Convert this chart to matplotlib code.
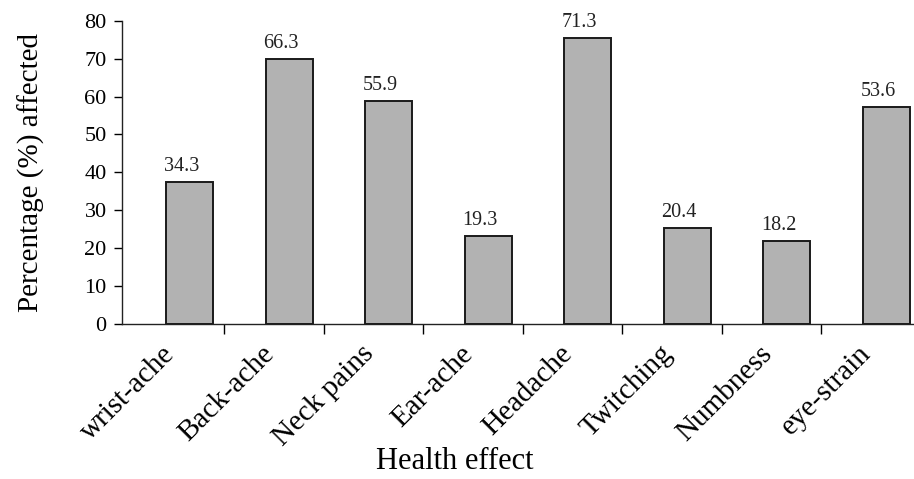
import numpy as np
import matplotlib.pyplot as plt
import matplotlib.transforms as mtransforms

plt.rcParams['font.family'] = ['Liberation Serif', 'DejaVu Serif']

effects = ["wrist-ache", "Back-ache", "Neck pains", "Ear-ache",
           "Headache", "Twitching", "Numbness", "eye-strain"]
# bar heights as drawn in the picture (they don't match the printed labels)
heights = [37.5, 69.8, 58.9, 23.2, 75.4, 25.2, 21.9, 57.3]
value_labels = ["34.3", "66.3", "55.9", "19.3", "71.3", "20.4", "18.2", "53.6"]

x = np.arange(len(effects))

fig = plt.figure(figsize=(9.14, 4.79), dpi=100)
ax = fig.add_axes([0.1335, 0.3236, 0.8665, 0.6332])

ax.bar(x, heights, width=0.47, color="#b2b2b2", edgecolor="#1a1a1a", linewidth=1.4)

for xi, h, lab in zip(x, heights, value_labels):
    ax.text(xi - 0.08, h + 1.6, lab, ha="center", va="bottom", fontsize=14.5, color="#222222")

ax.set_xlim(-0.68, 7.28)
ax.set_ylim(0, 80)
ax.set_yticks(range(0, 81, 10))
ax.tick_params(axis="y", labelsize=16, length=6, width=1, direction="out", pad=5)

# category ticks sit between bars, labels under the bars
ax.set_xticks(x)
ax.set_xticklabels(effects, rotation=45, ha="right", rotation_mode="anchor", fontsize=21)
ax.tick_params(axis="x", length=0, pad=12)
shift = mtransforms.ScaledTranslation(-28 / 100, 0, fig.dpi_scale_trans)
for lbl in ax.get_xticklabels():
    lbl.set_transform(lbl.get_transform() + shift)
ax.set_xticks(x[:-1] + 0.35, minor=True)
ax.tick_params(axis="x", which="minor", length=7, width=1, direction="out")

for s in ["top", "right"]:
    ax.spines[s].set_visible(False)
for s in ["left", "bottom"]:
    ax.spines[s].set_linewidth(1)
    ax.spines[s].set_color("#222222")

ax.set_ylabel("Percentage (%) affected", fontsize=21)
ax.yaxis.set_label_coords(-0.097, 0.5)
ax.set_xlabel("Health effect", fontsize=22)
ax.xaxis.set_label_coords(0.42, -0.405)

fig.savefig("out.png", dpi=100)
